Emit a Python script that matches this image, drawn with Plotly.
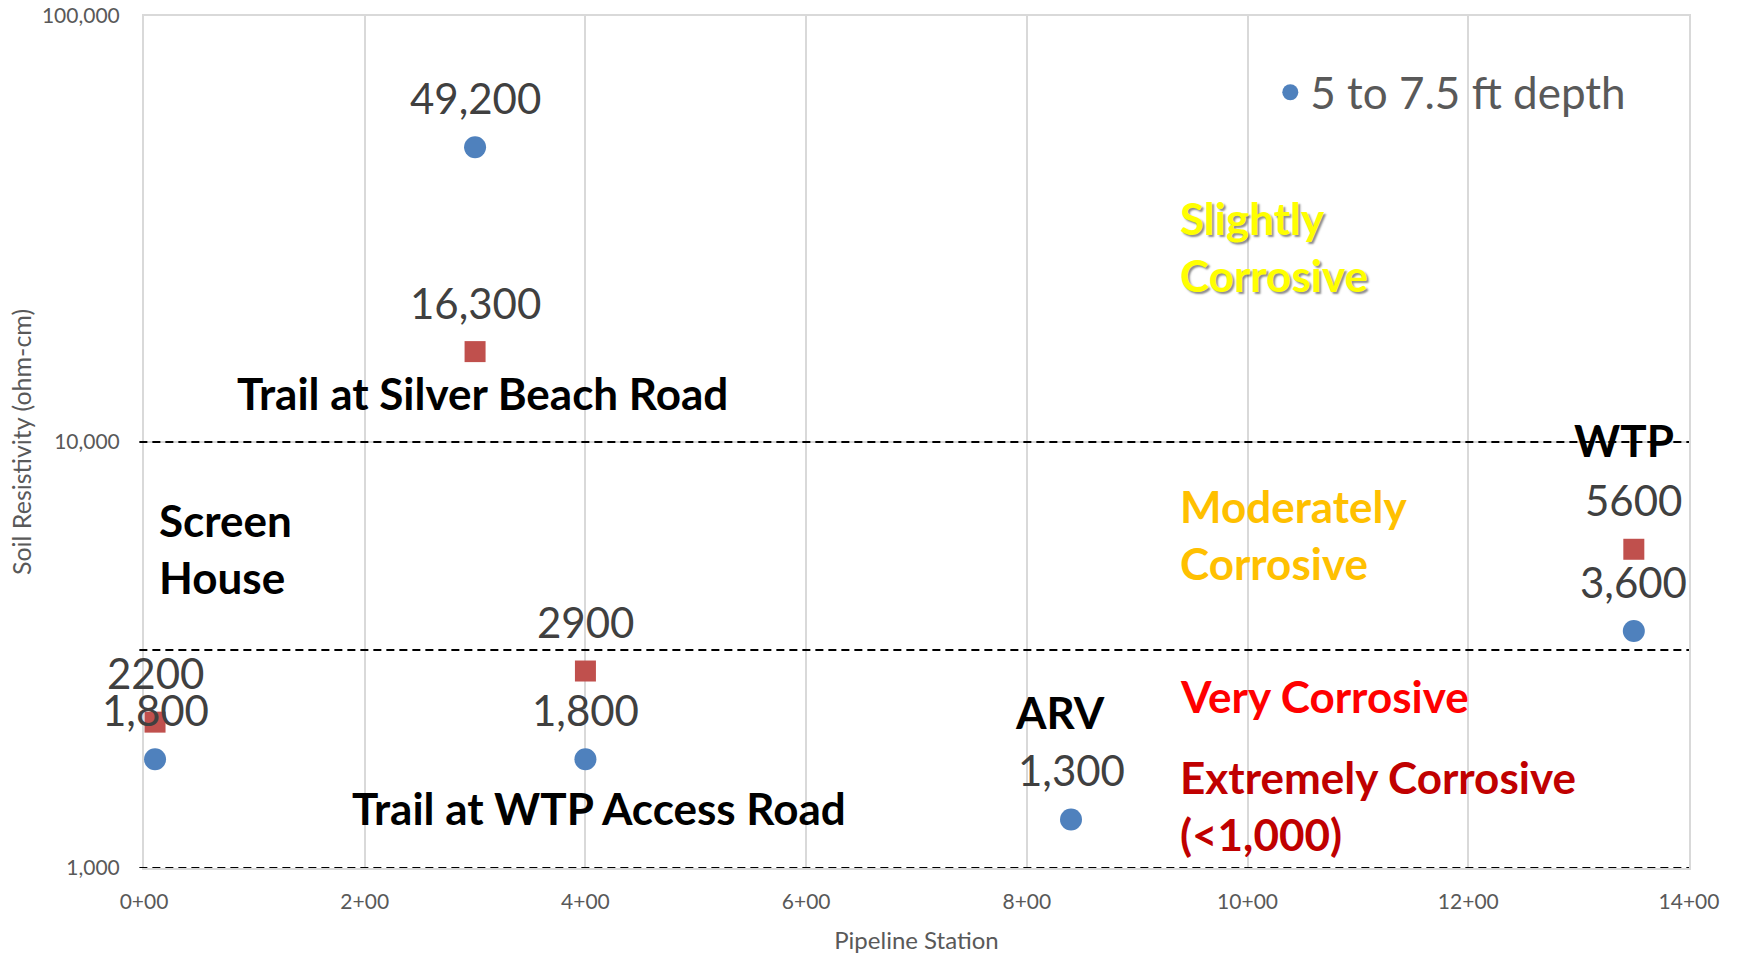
import numpy as np
import plotly.graph_objects as go

# pipeline stations (hundreds of ft) and soil resistivity readings (ohm-cm)
stations_shallow = [0.1, 3.0, 4.0, 8.4, 13.5]
resist_shallow = [1800, 49200, 1800, 1300, 3600]
labels_shallow = ["1,800", "49,200", "1,800", "1,300", "3,600"]

stations_deep = [0.1, 3.0, 4.0, 13.5]
resist_deep = [2200, 16300, 2900, 5600]
labels_deep = ["2200", "16,300", "2900", "5600"]

# corrosivity class boundaries drawn as dashed lines
thresholds = [1000, 3250, 10000]

x_tickvals = [0, 2, 4, 6, 8, 10, 12, 14]
x_ticktext = ["0+00", "2+00", "4+00", "6+00", "8+00", "10+00", "12+00", "14+00"]
y_tickvals = [1000, 10000, 100000]
y_ticktext = ["1,000", "10,000", "100,000"]

FONT = "Lato"
label_gray = "#404040"
axis_gray = "#595959"
grid_gray = "#D9D9D9"

fig = go.Figure()

fig.add_trace(go.Scatter(
    x=stations_shallow, y=resist_shallow,
    mode="markers", name="5 to 7.5 ft depth",
    marker=dict(symbol="circle", size=22, color="#4F81BD"),
))
fig.add_trace(go.Scatter(
    x=stations_deep, y=resist_deep,
    mode="markers", name="Deeper samples", showlegend=False,
    marker=dict(symbol="square", size=21, color="#C0504D"),
))

# value labels above each point
for xs, ys, labs in [(stations_shallow, resist_shallow, labels_shallow),
                     (stations_deep, resist_deep, labels_deep)]:
    for xv, yv, lab in zip(xs, ys, labs):
        fig.add_annotation(x=xv, y=np.log10(yv), text=lab, showarrow=False,
                           yshift=49,
                           font=dict(family=FONT, size=42, color=label_gray))

for t in thresholds:
    fig.add_shape(type="line", xref="paper", yref="y",
                  x0=-0.003, x1=1, y0=t, y1=t,
                  line=dict(color="black", width=2, dash="8px,5px"))


def place(text, x, y, color="black", xanchor="left", shadow=None):
    font = dict(family=FONT, size=44, color=color, weight="bold")
    if shadow:
        font["shadow"] = shadow
    fig.add_annotation(xref="paper", yref="paper", x=x, y=y, text=text,
                       showarrow=False, xanchor=xanchor, yanchor="middle",
                       align="left", font=font)


# site names
place("Trail at Silver Beach Road", 0.0588, 0.558)
place("Screen<br>House", 0.0086, 0.3745)
place("WTP", 0.958, 0.502, xanchor="center")
place("ARV", 0.593, 0.1834, xanchor="center")
place("Trail at WTP Access Road", 0.2948, 0.0702, xanchor="center")

# corrosivity zones
place("Slightly<br>Corrosive", 0.669, 0.730, color="#FFFF00",
      shadow="2px 2px 2px rgba(0,0,0,0.45)")
place("Moderately<br>Corrosive", 0.669, 0.392, color="#FFC000")
place("Very Corrosive", 0.669, 0.2016, color="#FF0000")
place("Extremely Corrosive<br>(<1,000)", 0.669, 0.0735, color="#C00000")

fig.update_xaxes(
    range=[0, 14], tickvals=x_tickvals, ticktext=x_ticktext,
    showgrid=True, gridcolor=grid_gray, gridwidth=1.5,
    showline=True, linecolor=grid_gray, linewidth=2, mirror=True,
    zeroline=False, ticklabelstandoff=14, automargin=False,
    ticklabeloverflow="allow",
    tickfont=dict(family=FONT, size=21, color=axis_gray),
    title=dict(text="Pipeline Station", standoff=22,
               font=dict(family=FONT, size=24, color=axis_gray)),
)
fig.update_yaxes(
    type="log", range=[3, 5], tickvals=y_tickvals, ticktext=y_ticktext,
    showgrid=True, gridcolor=grid_gray, gridwidth=1.5,
    showline=True, linecolor=grid_gray, linewidth=2, mirror=True,
    zeroline=False, ticklabelstandoff=18, automargin=False,
    ticklabeloverflow="allow",
    tickfont=dict(family=FONT, size=21, color=axis_gray),
    title=dict(text="Soil Resistivity (ohm-cm)", standoff=3,
               font=dict(family=FONT, size=25, color=axis_gray)),
)

fig.update_layout(
    width=1738, height=954,
    margin=dict(l=144, r=49, t=16, b=86),
    plot_bgcolor="white", paper_bgcolor="white",
    showlegend=True,
    legend=dict(x=0.729, y=0.91, xanchor="left", yanchor="middle",
                bgcolor="rgba(0,0,0,0)", itemsizing="trace",
                font=dict(family=FONT, size=44, color=axis_gray)),
)

# drop the browser's default 8px body margin so the figure fills the window
fig.write_html("out.html", config={"displayModeBar": False},
               post_script="document.body.style.margin = '0px';")
